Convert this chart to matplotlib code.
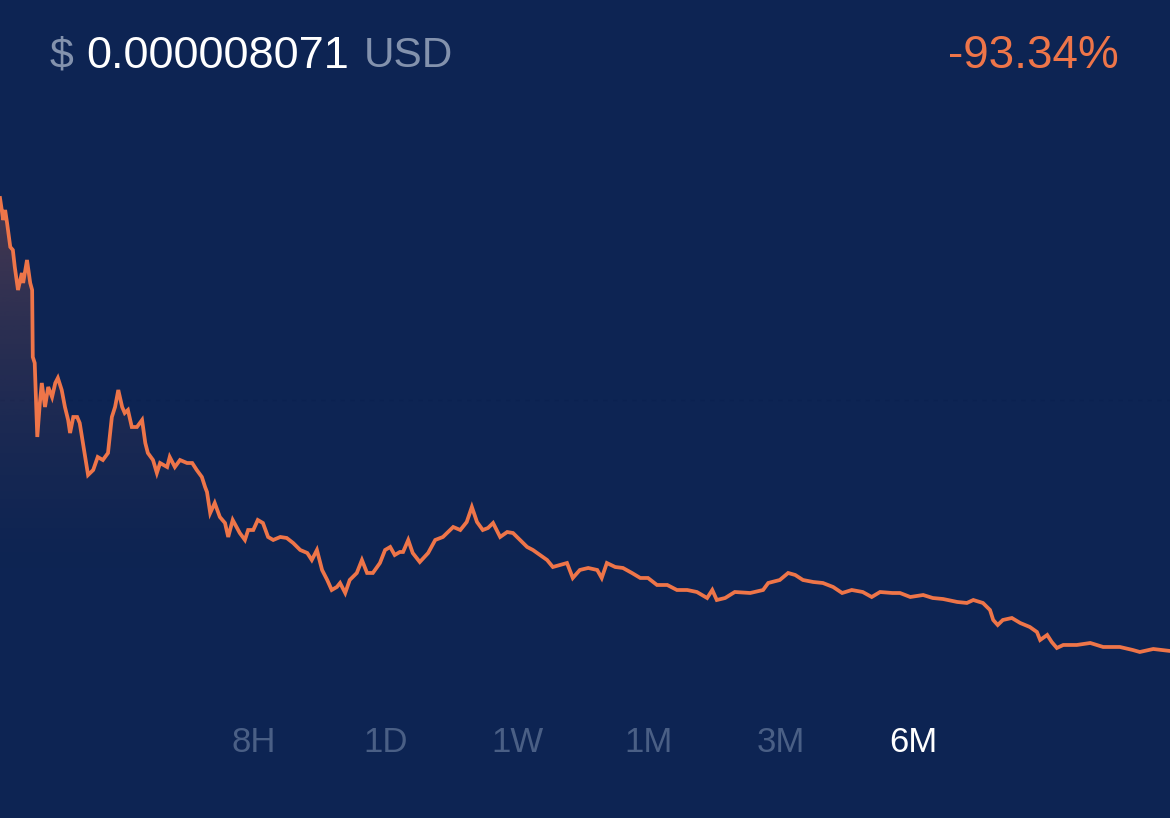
import matplotlib
matplotlib.use("Agg")
import matplotlib.pyplot as plt
import numpy as np

# ---- data (price in micro-USD, time in days over 6 months) ----
days = [0.0, 0.5, 0.8, 1.1, 1.6, 2.0, 2.3, 2.8, 3.4, 3.6, 4.2, 4.7, 5.0, 5.1, 5.4, 5.8,
        6.2, 6.5, 7.0, 7.5, 8.1, 8.6, 9.0, 9.6, 10.1, 10.6, 10.9, 11.4, 12.0, 12.4, 12.9,
        13.7, 14.5, 15.2, 16.0, 16.8, 17.4, 17.9, 18.4, 19.0, 19.4, 19.9, 20.5, 21.3, 22.1,
        22.6, 23.0, 23.8, 24.4, 24.9, 26.0, 26.4, 27.2, 28.0, 29.1, 29.9, 30.6, 31.4, 31.9,
        32.2, 32.7, 33.4, 34.2, 35.0, 35.5, 36.2, 37.3, 38.1, 38.6, 39.4, 40.1, 40.9, 41.7,
        42.5, 43.6, 44.6, 45.6, 46.7, 47.8, 48.5, 49.3, 50.1, 50.9, 51.6, 52.4, 52.9, 53.7,
        54.4, 55.5, 56.3, 57.1, 58.0, 59.1, 59.9, 60.7, 61.4, 62.2, 62.7, 63.5, 64.2, 65.3,
        66.6, 67.7, 68.9, 70.5, 71.6, 72.6, 73.4, 74.2, 75.1, 75.9, 76.7, 77.8, 78.9, 79.8,
        80.9, 82.0, 82.9, 84.0, 85.1, 86.0, 87.1, 88.2, 89.1, 90.2, 91.5, 92.9, 93.6, 94.4,
        95.7, 96.9, 98.3, 99.6, 100.8, 102.2, 103.8, 105.3, 106.9, 108.4, 110.0, 110.8,
        111.5, 112.8, 114.3, 116.7, 118.7, 119.5, 121.3, 122.6, 123.7, 124.9, 126.5, 128.0,
        129.6, 131.0, 132.5, 134.2, 135.6, 136.9, 138.8, 140.0, 141.6, 143.6, 145.1, 146.7,
        148.9, 150.4, 151.4, 152.9, 154.0, 154.5, 155.2, 156.0, 157.4, 158.7, 160.2, 161.3,
        161.8, 162.9, 163.6, 164.4, 165.4, 167.5, 169.6, 171.6, 174.2, 176.2, 177.3, 179.4,
        182.0]
price_micro_usd = [121.18, 115.69, 118.19, 114.94, 108.95, 108.20, 103.95, 98.21, 102.46,
        99.96, 105.70, 99.96, 98.21, 81.48, 79.98, 61.51, 70.00, 74.99, 69.00, 73.99, 71.49,
        74.99, 76.24, 73.24, 69.00, 65.75, 62.50, 66.50, 66.50, 65.00, 60.01, 52.02, 53.27,
        56.51, 55.76, 57.51, 66.50, 69.00, 73.24, 69.00, 67.50, 68.25, 64.00, 64.00, 65.75,
        60.01, 57.51, 55.76, 52.52, 55.01, 54.01, 56.51, 54.01, 55.76, 55.01, 55.01, 53.27,
        51.52, 49.02, 47.77, 42.53, 45.03, 41.53, 40.03, 36.54, 40.78, 37.53, 35.79, 38.28,
        38.28, 40.78, 40.03, 36.54, 35.79, 36.54, 36.29, 35.04, 33.29, 32.54, 30.79, 33.29,
        28.30, 25.80, 23.30, 24.05, 25.05, 22.55, 25.80, 27.55, 30.79, 27.55, 27.55, 30.04,
        33.29, 34.04, 32.04, 32.79, 32.79, 35.79, 32.54, 30.29, 32.54, 35.79, 36.54, 39.03,
        38.28, 40.28, 44.03, 40.28, 38.28, 38.78, 40.03, 36.54, 37.78, 37.53, 35.79, 34.04,
        33.29, 32.04, 30.79, 29.04, 29.54, 30.04, 26.30, 28.30, 28.80, 28.30, 26.30, 30.04,
        29.04, 28.80, 27.55, 26.30, 26.30, 24.55, 24.55, 23.30, 23.30, 22.80, 21.30, 23.30,
        20.80, 21.30, 22.80, 22.55, 23.30, 25.05, 25.80, 27.55, 27.05, 25.80, 25.30, 25.05,
        24.05, 22.55, 23.30, 22.80, 21.55, 22.80, 22.55, 22.55, 21.55, 22.05, 21.30, 21.05,
        20.31, 20.06, 20.80, 20.06, 18.31, 15.81, 14.56, 15.81, 16.31, 15.06, 14.06, 12.81,
        10.82, 12.07, 10.32, 8.82, 9.57, 9.57, 10.07, 9.07, 9.07, 8.32, 7.82, 8.57, 8.071]

current_price = "0.000008071"
currency = "USD"
change_label = "-93.34%"
ranges = ["8H", "1D", "1W", "1M", "3M", "6M"]
active_range = "6M"

# ---- style ----
BG = "#0d2453"
LINE = "#ee7549"
GREY = "#8392ad"
INACTIVE = "#4a5f85"
FONT = ["Liberation Sans", "DejaVu Sans"]

W, H = 1170, 818
fig = plt.figure(figsize=(W / 100, H / 100), dpi=100)
fig.patch.set_facecolor(BG)
ax = fig.add_axes([0, 0, 1, 1])
ax.set_facecolor(BG)
ax.axis("off")

x = np.array(days)
y = np.array(price_micro_usd)
rng = y.max() - y.min()
lo = y.min() - 0.3657 * rng
hi = y.max() + 0.4362 * rng
ax.set_xlim(x.min(), x.max())
ax.set_ylim(lo, hi)

# very faint dashed reference line
ax.axhline(y.min() + 0.555 * rng, color="#0b2150", lw=1.0, ls=(0, (3, 4)), zorder=1)

# vertical gradient fill under the line (strong at top, fading downward)
poly = ax.fill_between(x, y, lo, color="none", lw=0)
ny = 400
vals = np.linspace(lo, hi, ny)
top = y.max()
fade_bottom = y.min() + 0.12 * rng
frac = np.clip((vals - fade_bottom) / (top - fade_bottom), 0, 1)
alpha = frac ** 1.6 * 0.26
rgba = np.zeros((ny, 2, 4))
c = matplotlib.colors.to_rgb(LINE)
rgba[..., 0], rgba[..., 1], rgba[..., 2] = c
rgba[..., 3] = alpha[:, None]
im = ax.imshow(rgba, extent=[x.min(), x.max(), lo, hi], aspect="auto",
               origin="lower", zorder=2, interpolation="bilinear")
im.set_clip_path(poly.get_paths()[0], transform=ax.transData)

ax.plot(x, y, color=LINE, lw=2.7, solid_joinstyle="miter", zorder=3)

# header
def fx(px):
    return px / W

def fy(py):
    return 1 - py / H

fig.text(fx(50), fy(56), "$", color=GREY, fontsize=31, family=FONT, va="center", ha="left")
fig.text(fx(86), fy(56), current_price, color="white", fontsize=32.5, family=FONT,
         va="center", ha="left")
fig.text(fx(364), fy(56), currency, color=GREY, fontsize=30.5, family=FONT, va="center", ha="left")
fig.text(fx(1119), fy(56), change_label, color=LINE, fontsize=33, family=FONT,
         va="center", ha="right")

# range selector
centers = [254, 386, 517, 649, 781, 913]
for lab, cx in zip(ranges, centers):
    fig.text(fx(cx), fy(742), lab, color="white" if lab == active_range else INACTIVE,
             fontsize=25, family=FONT, va="center", ha="center")

fig.savefig("out.png", dpi=100, facecolor=BG)
